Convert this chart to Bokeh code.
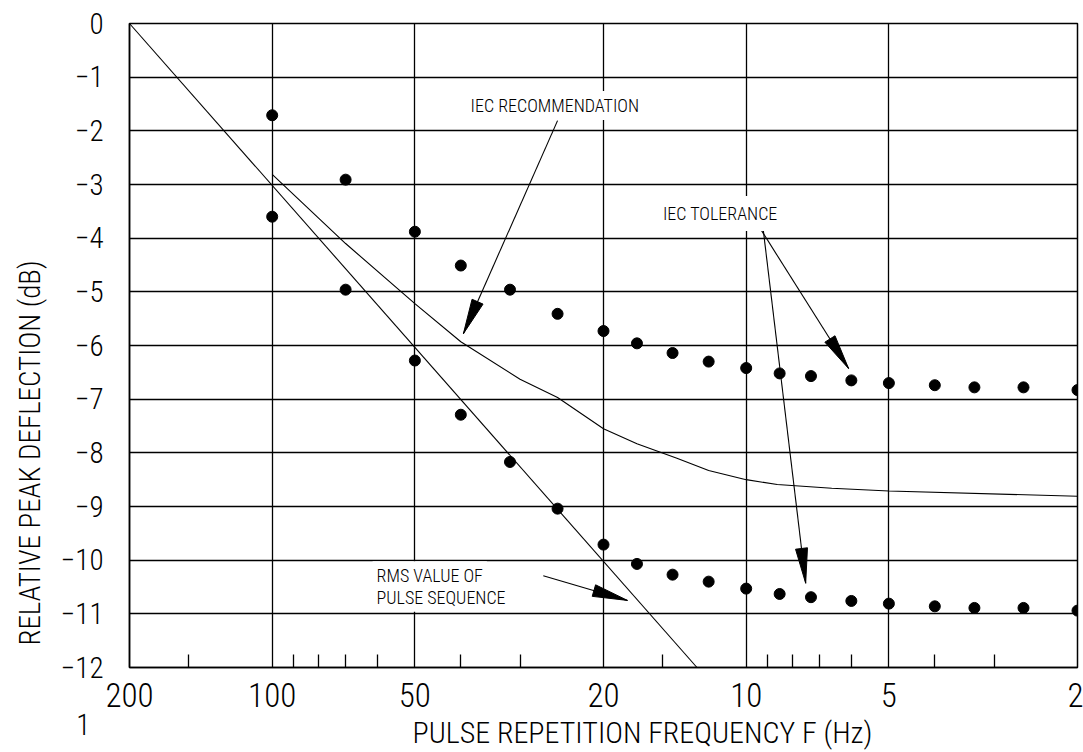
import math
from bokeh.plotting import figure
from bokeh.models import Range1d, FixedTicker, Label, Title, CustomJSTickFormatter, NumeralTickFormatter
from bokeh.embed import file_html
from bokeh.resources import INLINE

FONT = "Roboto Condensed Light, Roboto Condensed, DejaVu Sans Condensed, Liberation Sans, sans-serif"

# ---- data ----
freq = [100, 70, 50, 40, 31.5, 25, 20, 17, 14.3, 12, 10, 8.5, 7.3, 6, 5, 4, 3.3, 2.6, 2]
tol_upper = [-1.71, -2.91, -3.88, -4.51, -4.96, -5.41, -5.73, -5.96, -6.14, -6.30, -6.42,
             -6.52, -6.57, -6.65, -6.70, -6.74, -6.78, -6.78, -6.83]
tol_lower = [-3.60, -4.96, -6.28, -7.29, -8.17, -9.04, -9.71, -10.07, -10.27, -10.40, -10.53,
             -10.63, -10.69, -10.76, -10.81, -10.86, -10.89, -10.89, -10.94]
rec_freq = [100, 70, 50, 40, 30, 25, 20, 17, 14, 12, 10, 8.6, 6.6, 5, 2]
rec_db = [-2.81, -4.10, -5.22, -5.93, -6.63, -6.97, -7.55, -7.83, -8.10, -8.33, -8.50,
          -8.59, -8.66, -8.71, -8.81]
rms_freq = [200, 12.7]
rms_db = [0, -12]

x_major = [200, 100, 50, 20, 10, 5, 2]
x_minor = [150, 90, 80, 70, 60, 40, 30, 15, 9, 8, 7, 6, 4, 3]
x_grid = [100, 50, 20, 10, 5]
y_ticks = [0, -1, -2, -3, -4, -5, -6, -7, -8, -9, -10, -11, -12]

x_title = "PULSE REPETITION FREQUENCY F (Hz)"
y_title = "RELATIVE PEAK DEFLECTION (dB)"

# annotation anchors (data coordinates)
rec_text = (38.9, -1.53, "IEC RECOMMENDATION")
rec_arrow = [(25.0, -1.81, 39.5, -5.78)]
tol_text = (15.5, -3.54, "IEC TOLERANCE")
tol_arrows = [(9.28, -3.86, 6.08, -6.43), (9.20, -3.86, 7.49, -10.43)]
rms_text = [(61.4, -10.29, "RMS VALUE OF"), (61.4, -10.69, "PULSE SEQUENCE")]
rms_arrow = [(26.8, -10.29, 17.8, -10.75)]

# ---- layout ----
FL, FT, FR, FB = 129, 23, 6, 85
FW, FH = 948, 644
XMAX, XMIN, YMAX, YMIN = 200.0, 2.0, 0.0, -12.0


def to_px(f, d):
    return (FL + FW * math.log(XMAX / f) / math.log(XMAX / XMIN),
            FT + FH * (YMAX - d) / (YMAX - YMIN))


def to_data(px, py):
    return (XMAX / (XMAX / XMIN) ** ((px - FL) / FW),
            YMAX - (py - FT) * (YMAX - YMIN) / FH)


def head(x0, y0, x1, y1, L=35.0, Wd=12.0):
    sx, sy = to_px(x0, y0)
    tx, ty = to_px(x1, y1)
    dx, dy = tx - sx, ty - sy
    n = math.hypot(dx, dy)
    ux, uy = dx / n, dy / n
    bx, by = tx - L * ux, ty - L * uy
    nx, ny = -uy, ux
    pts = [(tx, ty), (bx + nx * Wd / 2, by + ny * Wd / 2), (bx - nx * Wd / 2, by - ny * Wd / 2)]
    xs, ys = zip(*[to_data(a, b) for a, b in pts])
    return list(xs), list(ys)


p = figure(frame_width=FW, frame_height=FH, x_axis_type="log",
           x_range=Range1d(XMAX, XMIN), y_range=Range1d(YMIN, YMAX),
           output_backend="svg", toolbar_location=None,
           min_border_left=FL, min_border_right=FR, min_border_top=FT, min_border_bottom=FB)
p.background_fill_color = "white"
p.border_fill_color = "white"
p.outline_line_color = "black"
p.outline_line_width = 1.5

# axes
p.xaxis.ticker = FixedTicker(ticks=x_major, minor_ticks=x_minor)
p.xaxis.formatter = NumeralTickFormatter(format="0.[0]")
p.xaxis.major_tick_in = 0
p.xaxis.major_tick_out = 0
p.xaxis.minor_tick_in = 13
p.xaxis.minor_tick_out = 0
p.xaxis.minor_tick_line_color = "black"
p.xaxis.minor_tick_line_width = 1.3
p.xaxis.axis_line_color = "black"
p.xaxis.axis_line_width = 1.5
p.xaxis.major_label_text_font = FONT
p.xaxis.major_label_text_font_size = "33px"
p.xaxis.major_label_text_color = "black"
p.xaxis.major_label_standoff = 15

p.yaxis.ticker = FixedTicker(ticks=y_ticks)
p.yaxis.formatter = CustomJSTickFormatter(code="""
if (tick == 0) { return '0'; }
if (tick == -12) { return '\\u00a0\\n\\u2212' + '12' + '\\n1\\u00a0\\u00a0'; }
return '\\u2212' + Math.abs(tick);
""")
p.yaxis.major_tick_in = 0
p.yaxis.major_tick_out = 0
p.yaxis.minor_tick_in = 0
p.yaxis.minor_tick_out = 0
p.yaxis.axis_line_color = "black"
p.yaxis.axis_line_width = 1.5
p.yaxis.major_label_text_font = FONT
p.yaxis.major_label_text_font_size = "29px"
p.yaxis.major_label_text_color = "black"
p.yaxis.major_label_text_line_height = 1.7
p.yaxis.major_label_standoff = 26

p.xgrid.ticker = FixedTicker(ticks=x_grid)
p.ygrid.ticker = FixedTicker(ticks=y_ticks[1:-1])
for g in (p.xgrid, p.ygrid):
    g.grid_line_color = "black"
    g.grid_line_width = 1.3

# curves & points
p.line(rms_freq, rms_db, line_color="black", line_width=1.1)
p.line(rec_freq, rec_db, line_color="black", line_width=1.1)
p.scatter(freq, tol_upper, size=11, fill_color="black", line_color="black")
p.scatter(freq, tol_lower, size=11, fill_color="black", line_color="black")

# arrows
for (x0, y0, x1, y1) in rec_arrow + tol_arrows + rms_arrow:
    p.segment(x0=[x0], y0=[y0], x1=[x1], y1=[y1], line_color="black", line_width=1.1)
    hx, hy = head(x0, y0, x1, y1)
    p.patch(hx, hy, fill_color="black", line_color="black", line_width=1)


def add_label(x, y, t, size="18px", pad=4):
    p.add_layout(Label(x=x, y=y, text=t, text_font=FONT, text_font_size=size,
                       text_align="left", text_baseline="middle", text_color="black",
                       background_fill_color="white", padding=pad))


add_label(*rec_text)
add_label(*tol_text, pad=7)
for (x, y, t) in rms_text:
    add_label(x, y, t, pad=4)

# axis titles as side titles (offset along the axis as in the original)
p.add_layout(Title(text=x_title, align="left", offset=283, text_font=FONT,
                   text_font_size="30px", text_font_style="normal", text_color="black",
                   standoff=6), "below")
p.add_layout(Title(text=y_title, align="left", vertical_align="top", offset=22, text_font=FONT,
                   text_font_size="29px", text_font_style="normal", text_color="black",
                   standoff=18), "left")

open("out.html", "w").write(file_html(p, INLINE))
